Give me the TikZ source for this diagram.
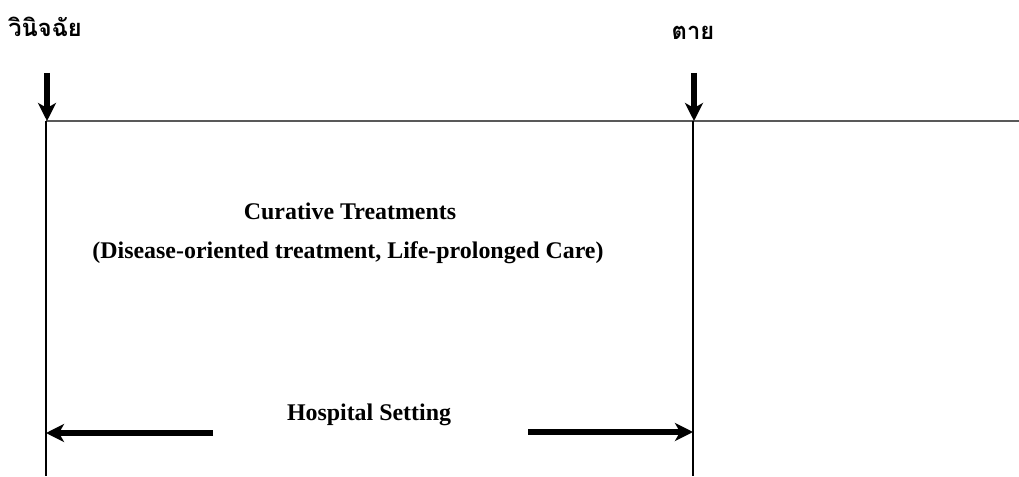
\documentclass[tikz,border=0pt]{standalone}
\usepackage{fontspec}
\setmainfont{Liberation Serif}
\newfontfamily\thaifont[Script=Thai]{Loma}
\usetikzlibrary{arrows.meta}
\tikzset{
  bigarrow/.style={-{Stealth[length=0.36cm,width=0.36cm,inset=0.1cm]}, line width=3pt},
  label/.style={font=\bfseries\fontsize{13.6}{16}\selectfont},
  thailabel/.style={font=\thaifont\bfseries\fontsize{13.5}{16}\selectfont}
}
\begin{document}
\begin{tikzpicture}
	\useasboundingbox (0,0) rectangle (20.38,9.52);

	\draw[line width=1.2pt, black!65] (0.92,7.1) -- (20.38,7.1);
	\draw[line width=0.8pt] (0.92,7.1) -- (0.92,0);
	\draw[line width=0.8pt] (13.86,7.1) -- (13.86,0);

	\draw[bigarrow] (0.94,8.06) -- (0.94,7.1);
	\draw[bigarrow] (13.88,8.06) -- (13.88,7.1);

	\node[thailabel, anchor=base west, inner sep=0pt] (diag) at (0.16,8.78) {วินิจฉัย};
	\node[thailabel, anchor=base, inner sep=0pt] (death) at (13.86,8.72) {ตาย};

	\node[label] (curative) at (7.0,5.3) {Curative Treatments};
	\node[label] (detail) at (6.96,4.46) {(Disease-oriented treatment, Life-prolonged Care)};
	\node[label] (hospital) at (7.38,1.22) {Hospital Setting};

	\draw[bigarrow] (4.26,0.86) -- (0.92,0.86);
	\draw[bigarrow] (10.56,0.88) -- (13.86,0.88);
\end{tikzpicture}
\end{document}
